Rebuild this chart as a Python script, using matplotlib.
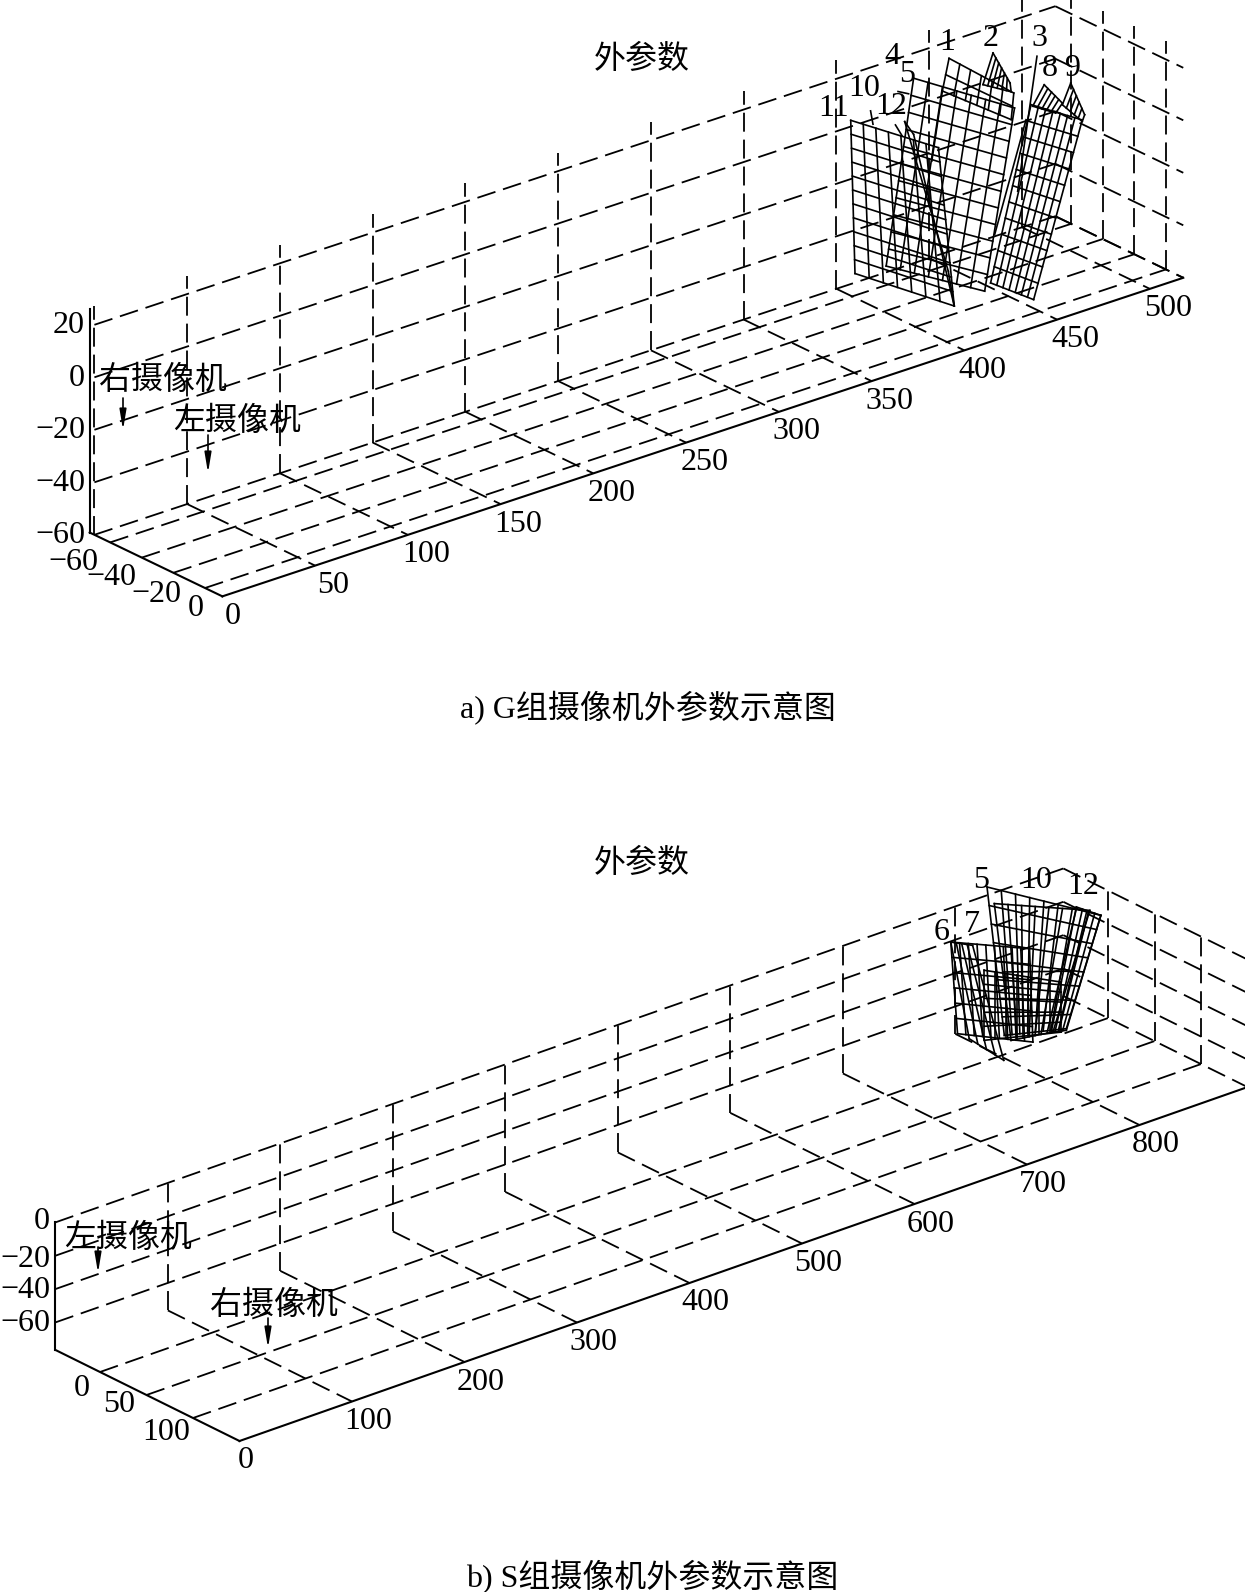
import matplotlib
matplotlib.use("Agg")
import matplotlib.pyplot as plt
import numpy as np

plt.rcParams['font.family'] = ['Liberation Serif', 'Noto Sans CJK SC', 'DejaVu Sans']
plt.rcParams['axes.unicode_minus'] = True

# ---------- panel a data ----------
a_title = "外参数"
a_caption = "a) G组摄像机外参数示意图"
a_x_ticks = [0, 50, 100, 150, 200, 250, 300, 350, 400, 450, 500]
a_y_ticks = [-60, -40, -20, 0]
a_z_ticks = [-60, -40, -20, 0, 20]
a_depth = -27   # depth of the calibration plates
# plate corners (TL, TR, BR, BL): x and z world values; cols, rows
a_p11_x = [371.1, 418.4, 426.9, 373.4]
a_p11_z = [23.4, 1.9, -60.4, -35.5]
a_p12_x = [400.2, 405.0, 426.9, 423.7]
a_p12_z = [16.1, 10.1, -60.4, -46.4]
a_p5_x = [405.0, 459.4, 443.3, 390.2]
a_p5_z = [31.5, 7.4, -58.6, -36.6]
a_p1_x = [424.1, 459.0, 457.6, 420.5]
a_p1_z = [34.6, 13.2, 3.4, 23.0]
a_p2_x = [447.8, 457.0, 457.6, 442.4]
a_p2_z = [31.1, 17.5, 14.0, 20.3]
a_p9_x = [468.3, 495.9, 469.7, 446.5]
a_p9_z = [6.6, -5.7, -68.0, -56.2]
a_p8_x = [475.4, 485.2, 481.6, 469.2]
a_p8_z = [12.5, 3.2, 0.3, 5.8]
a_p9s_x = [489.7, 497.2, 495.9, 485.2]
a_p9s_z = [9.8, -4.0, -6.3, 2.6]
a_edge1_x = [420.5, 414.8]
a_edge1_z = [23.0, -2.4]
a_edge3_x = [471.5, 461.1]
a_edge3_z = [24.3, -24.7]
a_edge7_x = [465.6, 448.7]
a_edge7_z = [1.5, -38.3]
a_lead10_x = [381.8, 383.1]
a_lead10_z = [24.5, 19.1]
a_lead12_x = [395.2, 398.8]
a_lead12_z = [16.0, 11.0]
a_lead4_x = [396.6, 402.3]
a_lead4_z = [28.4, 26.2]
a_plate_ids = ["1", "2", "3", "4", "5", "8", "9", "10", "11", "12"]

# ---------- panel b data ----------
b_title = "外参数"
b_caption = "b) S组摄像机外参数示意图"
b_x_ticks = [0, 100, 200, 300, 400, 500, 600, 700, 800]
b_y_ticks = [0, 50, 100]
b_z_ticks = [-60, -40, -20, 0]
b_depth = 47
b_pB_x = [749.6, 850.8, 820.1, 765.0]
b_pB_z = [49.8, 8.8, -51.9, -42.9]
b_pB2_x = [756.1, 841.0, 808.2, 771.0]
b_pB2_z = [38.3, 14.1, -51.1, -47.3]
b_pA_x = [717.4, 787.4, 790.4, 723.4]
b_pA_z = [24.4, 3.8, -52.9, -32.0]
b_pC_x = [717.4, 736.8, 764.5, 733.8]
b_pC_z = [24.4, 17.8, -57.7, -37.5]
b_pD_x = [747.2, 815.6, 815.6, 747.2]
b_pD_z = [0.4, -22.9, -52.9, -41.6]
b_pE_x = [829.0, 850.8, 820.1, 806.7]
b_pE_z = [19.0, 8.8, -52.9, -50.8]
b_plate_ids = ["5", "10", "12", "6", "7"]

# ---------- figure ----------
fig = plt.figure(figsize=(12.45, 15.92), dpi=100, facecolor='white')
ax = fig.add_axes([0, 0, 1, 1])
ax.set_xlim(0, 1245)
ax.set_ylim(1592, 0)
ax.axis('off')

DASH = dict(color='black', lw=1.3, ls=(0, (10.5, 4.4)), solid_capstyle='butt')
SOLID = dict(color='black', lw=1.5, solid_capstyle='projecting')
GRID = dict(color='black', lw=1.2)
NUM = 23
CJK = 23


def proj_a(x, y, z):
    x, y, z = map(np.asarray, (x, y, z))
    return 205 + 1.855 * x + 1.58 * y, 588 - 0.615 * x + 0.76 * y - 2.625 * (z + 60)


def proj_b(x, y, z):
    x, y, z = map(np.asarray, (x, y, z))
    return 100 + 1.125 * x + 0.93 * y, 1372 - 0.395 * x + 0.46 * y - 1.667 * (z + 76.5)


def seg(proj, p, q, **kw):
    sx, sy = proj(*zip(p, q))
    ax.plot(sx, sy, **kw)


def plate(proj, xs, zs, y, cols, rows):
    xs, zs = np.array(xs), np.array(zs)
    for i in range(cols + 1):
        t = i / cols
        xa, za = xs[0] + t * (xs[1] - xs[0]), zs[0] + t * (zs[1] - zs[0])
        xb, zb = xs[3] + t * (xs[2] - xs[3]), zs[3] + t * (zs[2] - zs[3])
        seg(proj, (xa, y, za), (xb, y, zb), **GRID)
    for j in range(rows + 1):
        t = j / rows
        xa, za = xs[0] + t * (xs[3] - xs[0]), zs[0] + t * (zs[3] - zs[0])
        xb, zb = xs[1] + t * (xs[2] - xs[1]), zs[1] + t * (zs[2] - zs[1])
        seg(proj, (xa, y, za), (xb, y, zb), **GRID)


def walls(proj, xt, yt, zt, xmax, yb, yf, zb, ztop):
    wall_x = sorted(set(xt) | {xmax})
    for x in wall_x:
        if x != xmax:
            seg(proj, (x, yb, zb), (x, yb, ztop), **DASH)
        if x > 0:
            seg(proj, (x, yb, zb), (x, yf, zb), **DASH)
    for y in yt:
        seg(proj, (0, y, zb), (xmax, y, zb), **DASH)
        seg(proj, (xmax, y, zb), (xmax, y, ztop), **DASH)
    for z in zt:
        seg(proj, (0, yb, z), (xmax, yb, z), **DASH)
        seg(proj, (xmax, yb, z), (xmax, yf, z), **DASH)


def label(x, y, s, size=NUM, ha='center', va='center'):
    ax.text(x, y, s, fontsize=size, ha=ha, va=va, color='black')


def arrow(x, y0, y1):
    ax.annotate('', xy=(x, y1), xytext=(x, y0),
                arrowprops=dict(arrowstyle='-|>,head_width=0.2,head_length=1.2',
                                color='black', lw=1.2, shrinkA=0, shrinkB=0))


def fmt(v):
    return str(v).replace('-', '\u2212')


# ---------- panel a ----------
walls(proj_a, a_x_ticks, a_y_ticks, a_z_ticks, 518, -70, 11, -60, 27)
seg(proj_a, (0, 11, -60), (518, 11, -60), **SOLID)
seg(proj_a, (0, 11, -60), (0, -73, -60), **SOLID)
seg(proj_a, (0, -73, -60), (0, -73, 25), **SOLID)
for v in a_x_ticks:
    sx, sy = proj_a(v, 11, -60)
    label(sx + (10 if v == 0 else 18), sy + 20, fmt(v))
for v, dx, dy in zip(a_y_ticks, [-12, -5, 8, -1], [20, 20, 22, 20]):
    sx, sy = proj_a(0, v, -60)
    label(sx + dx, sy + dy, fmt(v), ha='right')
for v in a_z_ticks:
    sx, sy = proj_a(0, -70, v)
    label(85, sy + 1, fmt(v), ha='right')

plate(proj_a, a_p11_x, a_p11_z, a_depth, 7, 11)
plate(proj_a, a_p12_x, a_p12_z, a_depth, 1, 1)
plate(proj_a, a_p5_x, a_p5_z, a_depth, 7, 11)
plate(proj_a, a_p1_x, a_p1_z, a_depth, 6, 2)
plate(proj_a, a_p2_x, a_p2_z, a_depth, 6, 1)
plate(proj_a, a_p9_x, a_p9_z, a_depth, 7, 11)
plate(proj_a, a_p8_x, a_p8_z, a_depth, 5, 1)
plate(proj_a, a_p9s_x, a_p9s_z, a_depth, 5, 1)
for xs, zs in [(a_edge1_x, a_edge1_z), (a_edge3_x, a_edge3_z), (a_edge7_x, a_edge7_z),
               (a_lead10_x, a_lead10_z), (a_lead12_x, a_lead12_z), (a_lead4_x, a_lead4_z)]:
    seg(proj_a, (xs[0], a_depth, zs[0]), (xs[1], a_depth, zs[1]), **GRID)

for s, (px, py) in zip(a_plate_ids, [(947, 42), (991, 38), (1039, 39), (892, 56), (907, 75),
                                     (1050, 69), (1073, 68), (864, 88), (834, 108), (891, 107)]):
    label(px, py, s, size=23)
label(642, 60, a_title, size=CJK)
label(648, 708, a_caption, size=CJK)
label(163, 381, "右摄像机", size=CJK)
label(237, 422, "左摄像机", size=CJK)
arrow(123, 398, 430)
arrow(208, 435, 473)

# ---------- panel b ----------
walls(proj_b, b_x_ticks, b_y_ticks, b_z_ticks, 896, -48, 150, -76.5, 1)
seg(proj_b, (0, 150, -76.5), (896, 150, -76.5), **SOLID)
seg(proj_b, (0, 150, -76.5), (0, -48, -76.5), **SOLID)
seg(proj_b, (0, -48, -76.5), (0, -48, 0), **SOLID)
for v in b_x_ticks:
    sx, sy = proj_b(v, 150, -76.5)
    label(sx + (6 if v == 0 else 16), sy + 20, fmt(v))
for v, dx, dy in zip(b_y_ticks, [-10, -11, -3], [16, 10, 15]):
    sx, sy = proj_b(0, v, -76.5)
    label(sx + dx, sy + dy, fmt(v), ha='right')
for v, dy in zip(b_z_ticks, [1, 1, 4, -1]):
    sx, sy = proj_b(0, -48, v)
    label(50, sy + dy, fmt(v), ha='right')

plate(proj_b, b_pB_x, b_pB_z, b_depth, 8, 8)
plate(proj_b, b_pB2_x, b_pB2_z, b_depth, 7, 2)
plate(proj_b, b_pA_x, b_pA_z, b_depth, 9, 6)
plate(proj_b, b_pC_x, b_pC_z, b_depth, 4, 1)
plate(proj_b, b_pD_x, b_pD_z, b_depth, 7, 5)
plate(proj_b, b_pE_x, b_pE_z, b_depth, 4, 1)

for s, (px, py) in zip(b_plate_ids, [(981, 880), (1036, 881), (1083, 886), (942, 933), (972, 924)]):
    label(px, py, s, size=23)
label(642, 864, b_title, size=CJK)
label(652, 1577, b_caption, size=CJK)
label(128, 1239, "左摄像机", size=CJK)
label(274, 1306, "右摄像机", size=CJK)
arrow(98, 1247, 1273)
arrow(268, 1318, 1348)

fig.savefig("out.png", dpi=100, facecolor='white')
